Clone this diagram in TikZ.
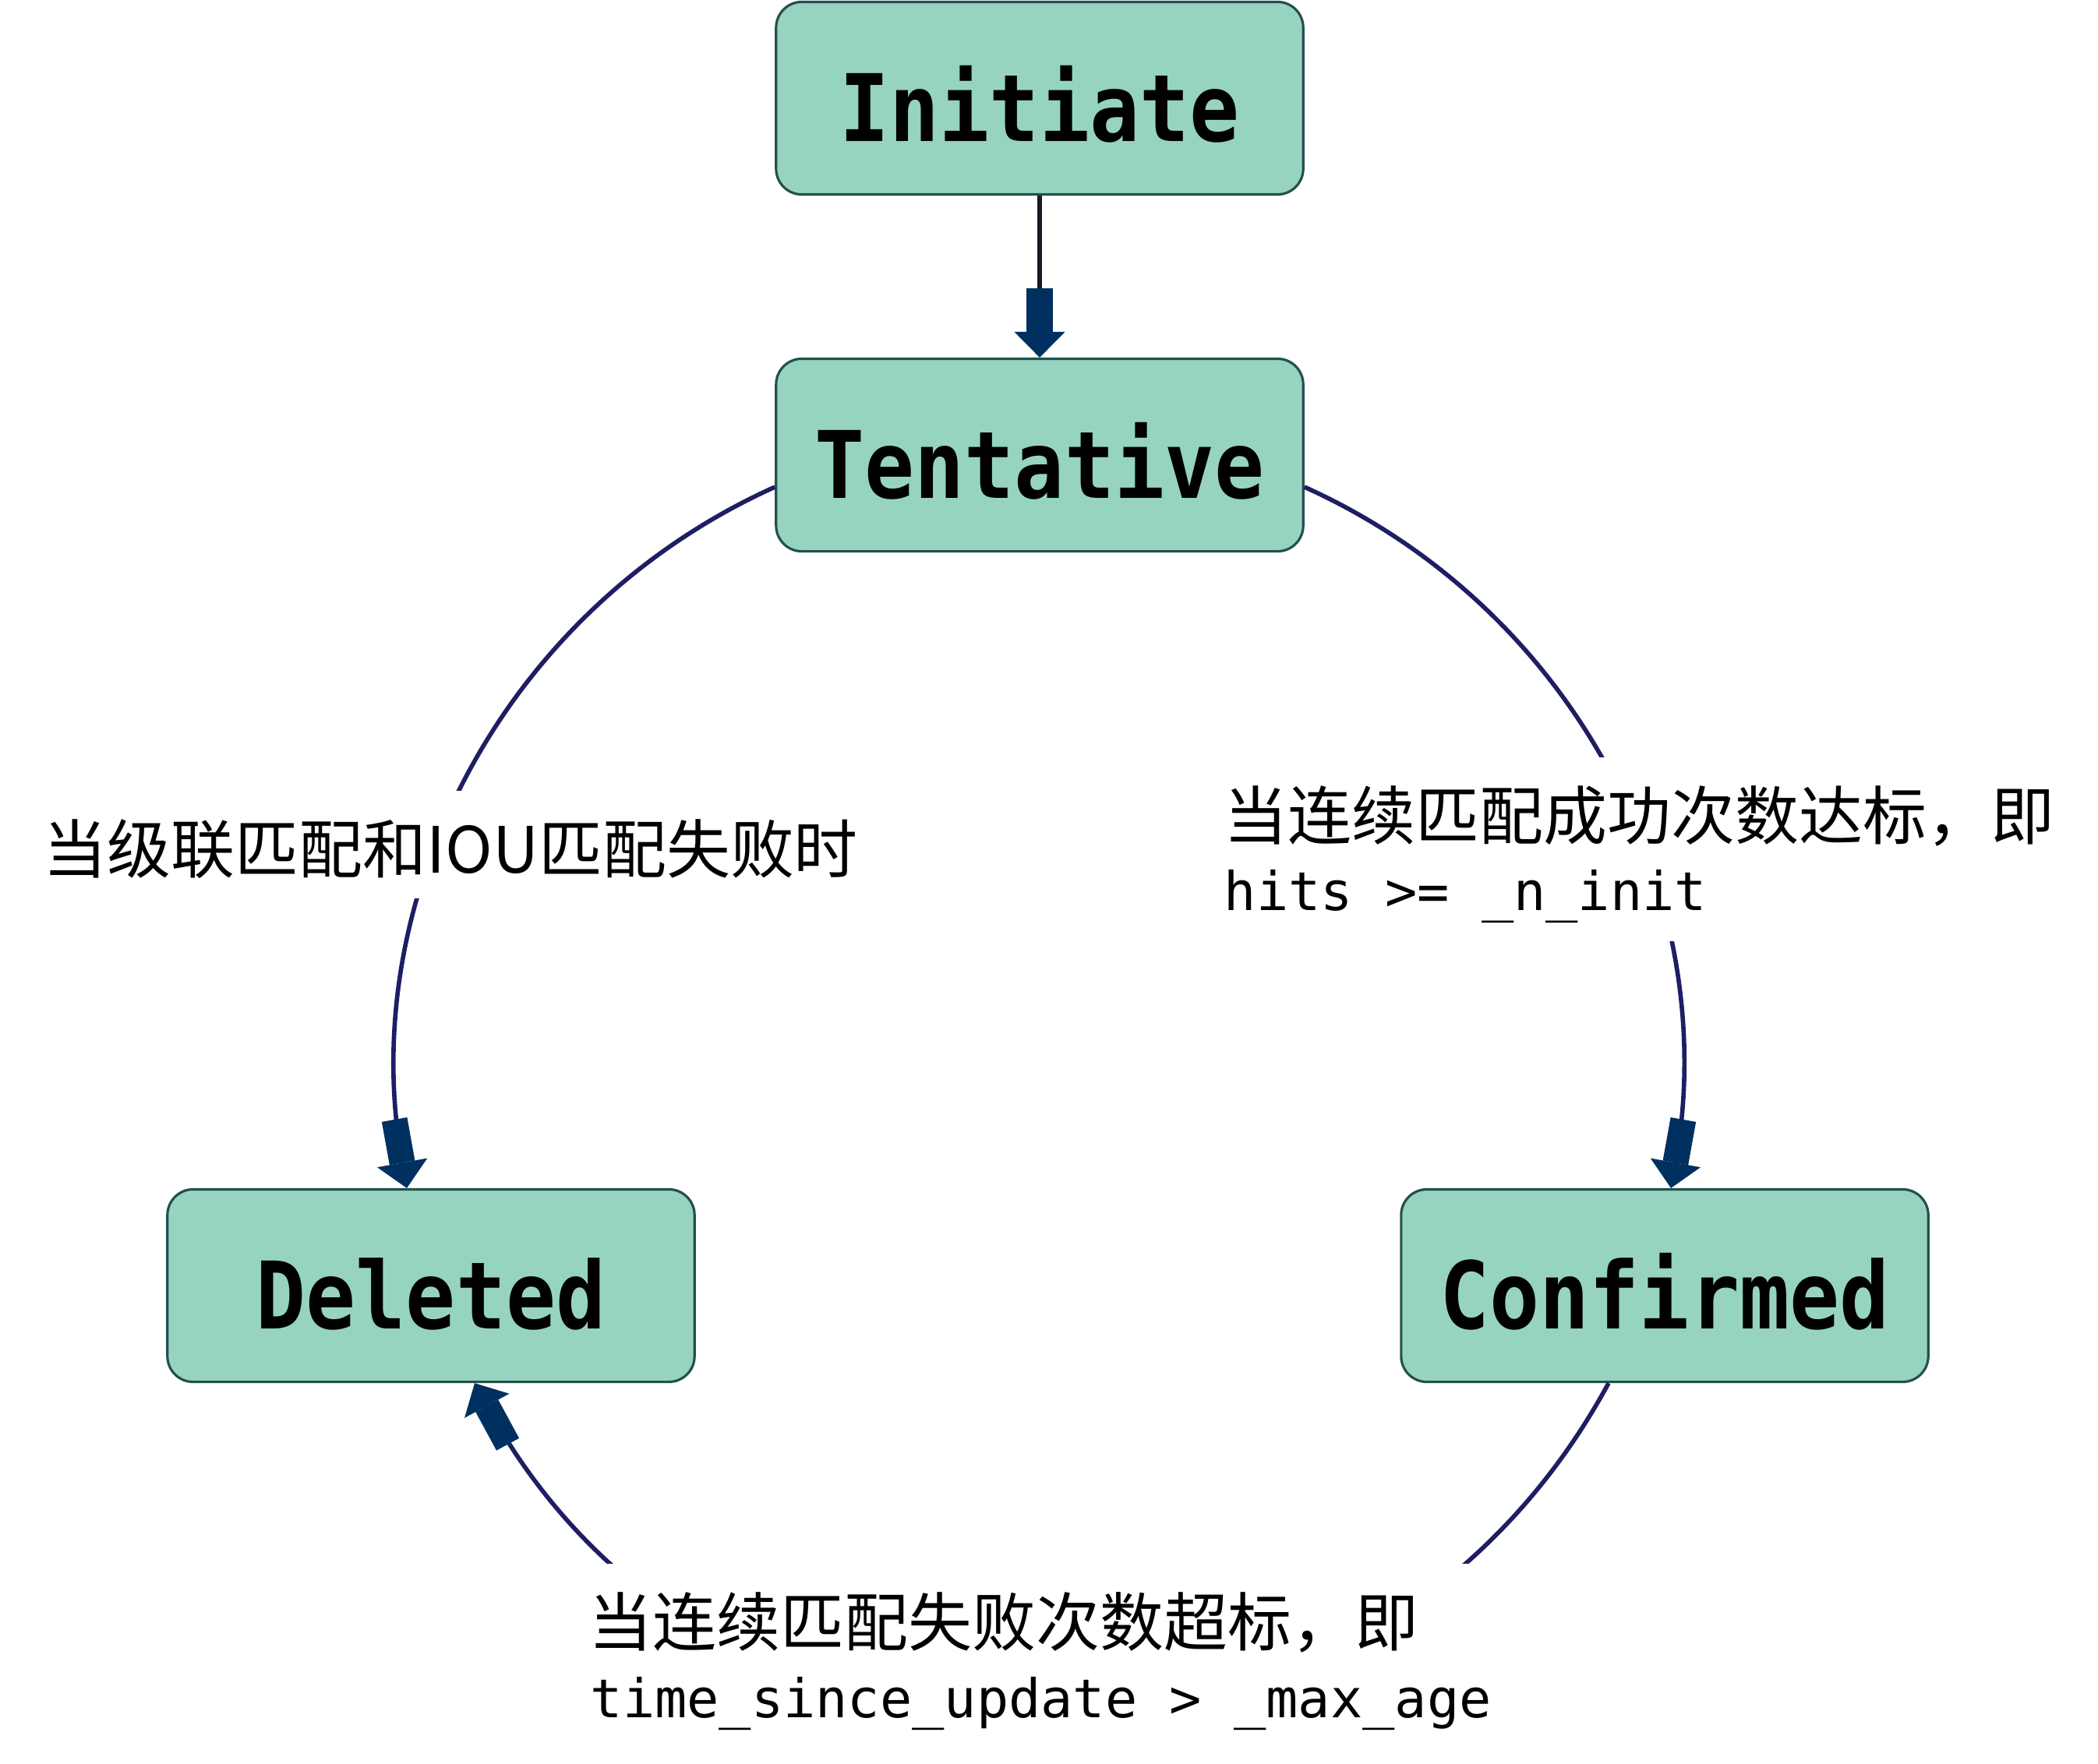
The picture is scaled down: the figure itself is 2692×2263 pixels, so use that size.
\documentclass[tikz,border=0pt]{standalone}
\usepackage{fontspec}
\usetikzlibrary{arrows.meta}
\newfontfamily\cjkfont{Noto Sans CJK SC}
\newfontfamily\monofont{DejaVu Sans Mono}
\newfontfamily\boxfont[FakeStretch=0.89]{DejaVu Sans Mono}
\definecolor{boxfill}{RGB}{150,212,191}
\definecolor{boxline}{RGB}{35,80,78}
\definecolor{arcline}{RGB}{30,30,100}
\definecolor{tipblue}{RGB}{0,48,96}
\definecolor{initline}{RGB}{25,25,40}
\tikzset{
  state/.style={draw=boxline, line width=0.9pt, fill=boxfill, rounded corners=0.33cm,
    minimum width=6.76cm, minimum height=2.47cm, inner sep=0pt,
    font=\boxfont\bfseries\fontsize{34}{34}\selectfont, text height=24.8pt, text depth=0pt},
  cjklbl/.style={fill=white, inner xsep=0.3cm, inner ysep=0.25cm, anchor=base west,
    text height=0.8cm, text depth=0.08cm,
    font=\cjkfont\fontsize{23.3}{28}\selectfont},
  monolbl/.style={fill=white, inner xsep=0.3cm, inner ysep=0.25cm, anchor=base west,
    text height=0.55cm, text depth=0.15cm,
    font=\monofont\fontsize{19.5}{24}\selectfont},
  flow/.style={draw=arcline, line width=1.6pt,
    -{Rectangle[length=16pt,width=9.4pt,line width=0.4pt,fill=tipblue,color=tipblue]Triangle[length=9.4pt,width=18.5pt,line width=0.4pt,fill=tipblue,color=tipblue]}},
}
\begin{document}
\begin{tikzpicture}[x=0.01cm,y=-0.01cm]
\useasboundingbox[fill=white] (0,0) rectangle (2692,2263);
\node[state] (init) at (1334,126) {\raisebox{-3.4pt}{Initiate}};
\node[state] (tent) at (1334,584) {\raisebox{-3.4pt}{Tentative}};
\node[state] (del) at (553,1650) {\raisebox{-3.4pt}{Deleted}};
\node[state] (conf) at (2136,1650) {\raisebox{-3.4pt}{Confirmed}};
\draw[flow, draw=initline] (init) -- (tent);
\draw[flow] ([yshift=-0.41cm]tent.west) .. controls +(204.24:3.80cm) and +(100.23:3.80cm) .. ([xshift=-0.31cm]del.north);
\draw[flow] ([yshift=-0.41cm]tent.east) .. controls +(-24.24:3.80cm) and +(79.77:3.80cm) .. ([xshift=0.08cm]conf.north);
\draw[flow] ([xshift=-0.72cm]conf.south) .. controls +(-118.42:6.58cm) and +(-61.58:6.58cm) .. ([xshift=0.56cm]del.south);
\node[cjklbl] (lblL) at (25,1120) {当级联匹配和IOU匹配失败时};
\node[cjklbl] (lblR1) at (1540,1077) {当连续匹配成功次数达标，即};
\node[monolbl] (lblR2) at (1540,1168) {hits >= \_n\_init};
\node[cjklbl] (lblB1) at (725,2112) {当连续匹配失败次数超标，即\rule{0.5cm}{0pt}};
\node[monolbl] (lblB2) at (727,2204) {time\_since\_update > \_max\_age};
\end{tikzpicture}
\end{document}
